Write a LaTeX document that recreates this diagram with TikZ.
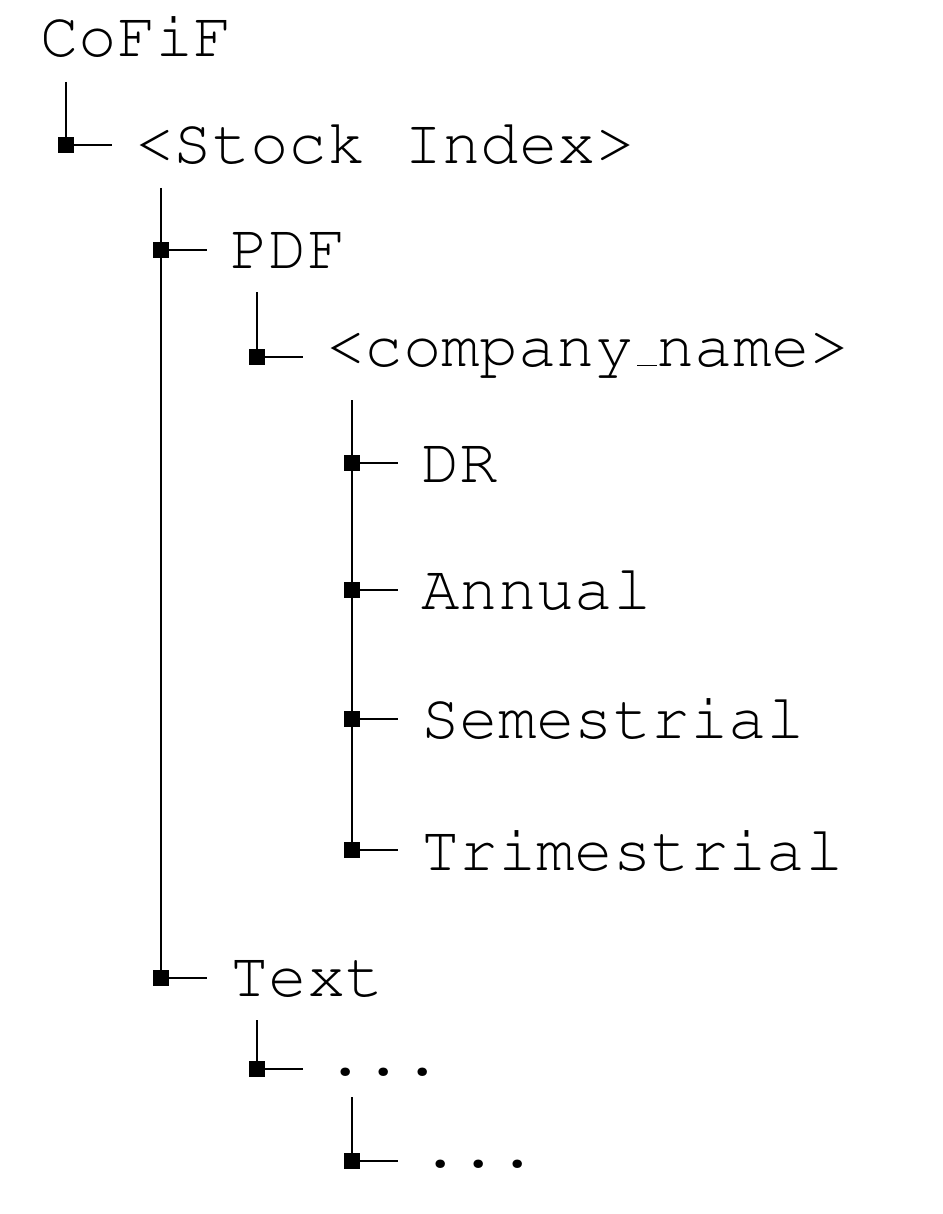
\documentclass[tikz,border=0pt]{standalone}
\usepackage[OT1,TU]{fontenc}
\usetikzlibrary{positioning}
\tikzset{
  dirnode/.style = {anchor=base west, inner sep=0pt,
    font=\fontencoding{OT1}\fontfamily{pcr}\fontsize{32}{36}\selectfont},
  knot/.style = {rectangle, fill=black, inner sep=0pt,
    minimum size=8pt},
  branch/.style = {shorten >=11pt}
}

\begin{document}
\begin{tikzpicture}[x=0.5pt, y=-0.5pt, line width=1.3pt]
\useasboundingbox (0,0) rectangle (942,1214);
% folders and files
\node [dirnode] (cofif) at (39,57) {CoFiF};
\node [dirnode] (stock) at (134,164) {<Stock Index>};
\node [dirnode] (pdf) at (229,269) {PDF};
\node [dirnode] (company) at (325,366) {<company\_name>};
\node [dirnode] (dr) at (420,482) {DR};
\node [dirnode] (annual) at (420,609) {Annual};
\node [dirnode] (semes) at (420,738) {Semestrial};
\node [dirnode] (trimes) at (420,870) {Trimestrial};
\node [dirnode] (text) at (229,996) {Text};
\node [dirnode] (dotsa) at (325,1075) {...};
\node [dirnode] (dotsb) at (420,1167) {...};
% knots
\node [knot] (k-stock) at (66,145) {};
\node [knot] (k-pdf) at (161,250) {};
\node [knot] (k-company) at (257,357) {};
\node [knot] (k-dr) at (352,463) {};
\node [knot] (k-annual) at (352,590) {};
\node [knot] (k-semes) at (352,719) {};
\node [knot] (k-trimes) at (352,850) {};
\node [knot] (k-text) at (161,978) {};
\node [knot] (k-dotsa) at (257,1069) {};
\node [knot] (k-dotsb) at (352,1161) {};
% stems
\coordinate (s-cofif) at (66,82);
\coordinate (s-stock) at (161,188);
\coordinate (s-pdf) at (257,292);
\coordinate (s-company) at (352,400);
\coordinate (s-text) at (257,1020);
\coordinate (s-dotsa) at (352,1097);
\draw (s-cofif) -- (k-stock.center);
\draw (s-stock) -- (k-text.center);
\draw (s-pdf) -- (k-company.center);
\draw (s-company) -- (k-trimes.center);
\draw (s-text) -- (k-dotsa.center);
\draw (s-dotsa) -- (k-dotsb.center);
% branches
\draw [branch] (k-stock.center) -- (k-stock.center -| stock.west);
\draw [branch] (k-pdf.center) -- (k-pdf.center -| pdf.west);
\draw [branch] (k-company.center) -- (k-company.center -| company.west);
\draw [branch] (k-dr.center) -- (k-dr.center -| dr.west);
\draw [branch] (k-annual.center) -- (k-annual.center -| annual.west);
\draw [branch] (k-semes.center) -- (k-semes.center -| semes.west);
\draw [branch] (k-trimes.center) -- (k-trimes.center -| trimes.west);
\draw [branch] (k-text.center) -- (k-text.center -| text.west);
\draw [branch] (k-dotsa.center) -- (k-dotsa.center -| dotsa.west);
\draw [branch] (k-dotsb.center) -- (k-dotsb.center -| dotsb.west);
\end{tikzpicture}
\end{document}
